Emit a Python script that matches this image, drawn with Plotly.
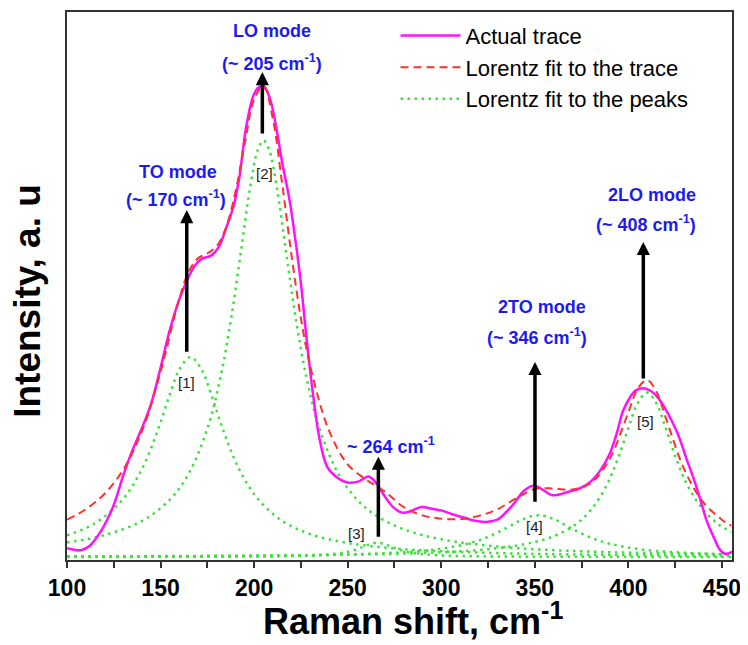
import plotly.graph_objects as go

# ---------------- data ----------------
trace_x = [100, 104, 108, 112, 116, 120, 125, 130, 135, 140, 145, 150, 155, 160, 164, 168, 172, 177,
           181, 185, 189, 192, 196, 200, 203, 206, 209, 212, 215, 219, 222, 225, 228, 231, 235, 239,
           244, 250, 256, 261, 264, 267, 270, 274, 279, 284, 289, 295, 300, 306, 312, 318, 324, 330,
           335, 339, 344, 349, 352, 355, 359, 363, 368, 374, 380, 385, 390, 394, 397, 401, 404, 408,
           412, 416, 419, 423, 427, 431, 435, 438, 442, 445.5, 449, 451.5, 454, 455.5]
trace_y = [1.6, 1.3, 1.3, 2.0, 3.6, 5.8, 9.5, 14.8, 19.5, 23.5, 28.0, 34.5, 41.5, 47.0, 50.3, 53.0, 54.4, 55.0,
           56.5, 60.0, 64.0, 69.0, 79.0, 84.5, 85.8, 85.5, 83.0, 78.0, 72.0, 65.0, 58.0, 50.0, 40.0, 31.0, 21.5, 16.5,
           14.6, 13.6, 13.8, 14.7, 14.0, 12.6, 11.0, 9.2, 8.1, 8.4, 9.1, 8.8, 8.5, 7.8, 7.2, 6.6, 6.4, 6.8,
           8.3, 9.8, 12.0, 13.0, 12.7, 12.1, 11.3, 11.4, 11.9, 12.5, 13.8, 15.8, 18.8, 22.8, 26.5, 29.2, 30.4, 30.8,
           30.3, 29.0, 27.5, 25.0, 22.0, 18.0, 14.2, 11.0, 6.5, 3.7, 1.3, 0.6, 0.7, 1.0]

fit_x = [100, 110, 120, 130, 140, 150, 160, 165, 170, 175, 180, 185, 190, 195, 200, 205, 210, 215, 220,
         225, 230, 240, 250, 260, 270, 280, 290, 300, 310, 320, 330, 340, 350, 360, 370, 380, 390, 400,
         405, 410, 415, 420, 430, 440, 450, 455]
fit_y = [6.8, 8.7, 11.5, 15.9, 22.9, 33.8, 47.1, 52.0, 54.5, 55.4, 56.7, 60.1, 66.6, 75.4, 83.5, 86.0, 80.0,
         68.1, 55.0, 43.6, 34.8, 23.1, 16.9, 14.1, 11.9, 9.1, 7.6, 7.0, 6.9, 7.5, 8.7, 10.7, 12.4, 12.5, 12.3,
         13.5, 17.9, 26.4, 30.7, 32.3, 30.2, 25.4, 15.9, 10.0, 6.8, 5.7]

peak1_x = [100, 115, 130, 140, 148, 155, 160, 166, 172, 177, 184, 192, 202, 215, 230, 250, 275, 300, 340, 380, 420, 455]
peak1_y = [3.95, 6.17, 10.58, 16.02, 22.64, 29.71, 34.18, 36.5, 34.18, 29.71, 22.64, 16.02, 10.58, 6.59, 4.17,
           2.55, 1.56, 1.04, 0.63, 0.42, 0.30, 0.23]

peak2_x = [100, 120, 140, 155, 165, 175, 182, 188, 193, 198, 202, 205, 208, 212, 217, 222, 228, 235, 245,
           255, 265, 280, 300, 330, 370, 410, 455]
peak2_y = [2.66, 3.99, 6.57, 10.48, 15.2, 23.38, 32.72, 44.12, 55.88, 67.71, 74.33, 76.0, 74.33, 67.71, 55.88,
           44.12, 32.72, 23.38, 15.2, 10.48, 7.6, 5.05, 3.23, 1.90, 1.10, 0.72, 0.48]

peak3_x = [100, 200, 220, 235, 245, 252, 258, 262, 266, 270, 274, 280, 287, 297, 310, 340, 400, 455]
peak3_y = [0.01, 0.08, 0.17, 0.34, 0.64, 1.10, 1.80, 2.34, 2.6, 2.34, 1.80, 1.10, 0.64, 0.34, 0.18, 0.07, 0.02, 0.01]

peak4_x = [100, 200, 250, 280, 300, 315, 325, 335, 342, 348, 352, 356, 362, 369, 379, 390, 405, 425, 455]
peak4_y = [0.08, 0.22, 0.46, 0.88, 1.52, 2.51, 3.66, 5.32, 6.62, 7.42, 7.6, 7.42, 6.62, 5.32, 3.66, 2.42,
           1.47, 0.86, 0.46]

peak5_x = [100, 250, 300, 330, 350, 362, 372, 380, 388, 394, 400, 405, 410, 415, 420, 426, 432, 440, 448, 455]
peak5_y = [0.11, 0.42, 0.87, 1.60, 2.73, 4.06, 6.0, 8.59, 12.82, 17.55, 23.49, 28.06, 30.0, 28.06, 23.49,
           17.55, 12.82, 8.59, 6.0, 4.54]

x_ticks = [100, 150, 200, 250, 300, 350, 400, 450]

# mode labels: (text, x, y) and arrows: (x, y_tail, y_head)
mode_labels = [
    ("LO mode", 209.6, 96.0), ("(~ 205 cm<sup>-1</sup>)", 209.6, 90.3),
    ("TO mode", 159.3, 70.3), ("(~ 170 cm<sup>-1</sup>)", 158.3, 65.5),
    ("~ 264 cm<sup>-1</sup>", 272.9, 20.4),
    ("2TO mode", 353.7, 45.7), ("(~ 346 cm<sup>-1</sup>)", 351.2, 40.2),
    ("2LO mode", 412.5, 66.1), ("(~ 408 cm<sup>-1</sup>)", 409.5, 60.9),
]
arrows = [(164.0, 37.2, 63.3), (204.4, 77.0, 88.5), (266.4, 3.4, 18.3), (350.1, 9.8, 35.6), (408.0, 32.3, 57.5)]
peak_tags = [("[1]", 164.0, 31.8), ("[2]", 205.8, 70.0), ("[3]", 254.8, 4.3), ("[4]", 350.1, 5.5), ("[5]", 409.3, 24.7)]

# ---------------- figure ----------------
FONT = "Liberation Sans, Arial, sans-serif"
GREEN = "#3de03d"
fig = go.Figure()
peaks = [(peak1_x, peak1_y), (peak2_x, peak2_y), (peak3_x, peak3_y), (peak4_x, peak4_y), (peak5_x, peak5_y)]
for i, (px, py) in enumerate(peaks):
    fig.add_trace(go.Scatter(
        x=px, y=py, mode="lines", line=dict(color=GREEN, width=2.5, dash="2.5px,4.5px", shape="spline"),
        name="Lorentz fit to the peaks", legendgroup="peaks", showlegend=(i == 0), legendrank=3))

fig.add_trace(go.Scatter(x=trace_x, y=trace_y, mode="lines", name="Actual trace",
                         line=dict(color="#ff10ff", width=2.5, shape="spline"), legendrank=1))
fig.add_trace(go.Scatter(x=fit_x, y=fit_y, mode="lines", name="Lorentz fit to the trace",
                         line=dict(color="#ff3030", width=2, dash="8px,5px", shape="spline"), legendrank=2))

ann = []
for t, x, y in mode_labels:
    ann.append(dict(text=f"<b>{t}</b>", x=x, y=y, xref="x", yref="y", showarrow=False,
                    font=dict(family=FONT, size=18, color="#1c1cf0"),
                    xanchor="center", yanchor="middle"))
for x, y0, y1 in arrows:
    ann.append(dict(x=x, y=y1, ax=x, ay=y0, xref="x", yref="y", axref="x", ayref="y",
                    showarrow=True, arrowhead=2, arrowsize=0.75, arrowwidth=3.5, arrowcolor="black", text=""))
for t, x, y in peak_tags:
    ann.append(dict(text=t, x=x, y=y, xref="x", yref="y", showarrow=False,
                    font=dict(family=FONT, size=15, color="#222222"),
                    xanchor="center", yanchor="middle"))
# axis titles
ann.append(dict(text="<b>Raman shift, cm<sup>-1</sup></b>", x=0.52, y=-0.153, xref="paper", yref="paper",
                showarrow=False, xanchor="center", yanchor="bottom",
                font=dict(family=FONT, size=36, color="black")))
ann.append(dict(text="<b>Intensity, a. u</b>", x=-0.0586, y=0.473, xref="paper", yref="paper",
                showarrow=False, xanchor="center", yanchor="middle", textangle=-90,
                font=dict(family=FONT, size=37, color="black")))

# page body has an 8px margin, so the figure is 8px smaller and shifted
fig.update_layout(
    width=740, height=637,
    margin=dict(l=59, r=16, t=4, b=85, autoexpand=False),
    paper_bgcolor="white", plot_bgcolor="white",
    font=dict(family=FONT, color="black"),
    showlegend=True,
    legend=dict(x=0.494, y=0.995, xanchor="left", yanchor="top", bgcolor="rgba(0,0,0,0)",
                font=dict(family=FONT, size=22, color="black"), traceorder="normal", tracegroupgap=0,
                itemwidth=60),
    annotations=ann,
)
fig.update_xaxes(range=[100, 455.4], tickvals=x_ticks, ticktext=[f"<b>{v}</b>" for v in x_ticks],
                 ticks="outside", ticklen=6, tickwidth=2, tickcolor="#333",
                 minor=dict(dtick=25, ticks="outside", ticklen=6, tickwidth=2, tickcolor="#333", showgrid=False),
                 showline=True, linecolor="#333", linewidth=2, mirror=True, showgrid=False, zeroline=False,
                 tickfont=dict(family=FONT, size=23, color="black"), automargin=False)
fig.update_yaxes(range=[-0.55, 99.45], showticklabels=False, ticks="",
                 showline=True, linecolor="#333", linewidth=2, mirror=True, showgrid=False, zeroline=False,
                 automargin=False)

fig.write_html("out.html")
